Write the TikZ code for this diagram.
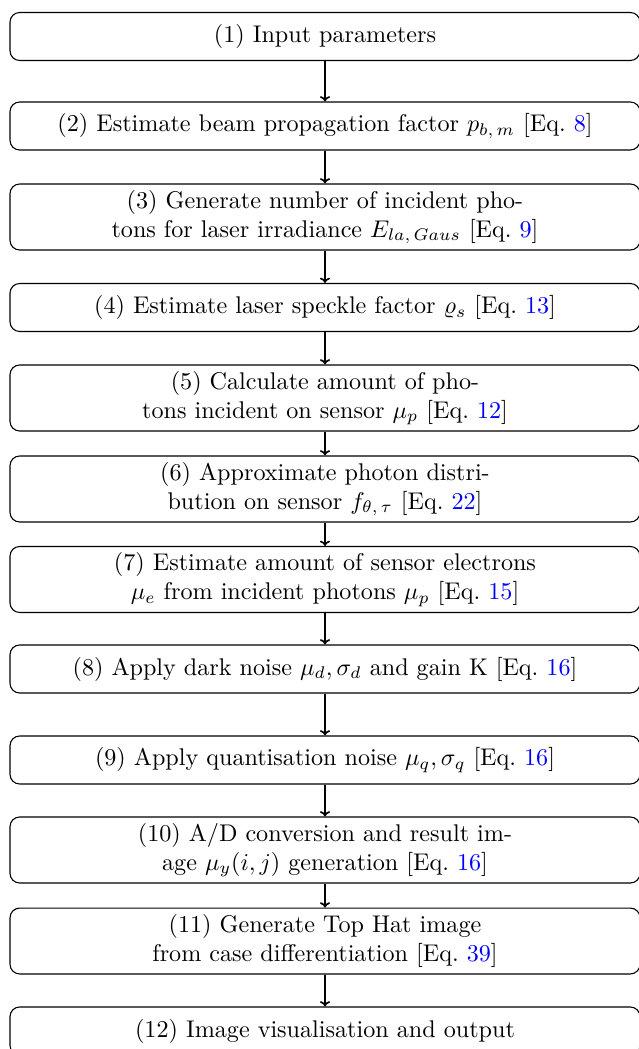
\documentclass[tikz,border=0pt]{standalone}
\usetikzlibrary{arrows.meta}
\definecolor{eqref}{rgb}{0,0,1}
\newcommand{\eqnum}[1]{[Eq.~\textcolor{eqref}{#1}]}
\tikzset{
  stepbox/.style={draw, rounded corners=4pt, line width=0.45pt, align=center,
    minimum width=261pt, minimum height=19.9pt, inner sep=2.5pt},
  tallbox/.style={stepbox, minimum height=27.3pt},
  flow/.style={draw, line width=0.7pt, -{To[length=2.2pt,width=4.2pt]}}
}
\begin{document}
\begin{tikzpicture}[x=0.4143pt, y=-0.4143pt]
  \useasboundingbox (0,0) rectangle (638,1049);
  \node[stepbox] (s1)  at (325,36.5) {(1) Input parameters};
  \node[stepbox] (s2)  at (325,126)  {(2) Estimate beam propagation factor $p_{b,\,m}$ \eqnum{8}};
  \node[tallbox] (s3)  at (325,217)  {(3) Generate number of incident pho-\\tons for laser irradiance $E_{la,\,Gaus}$ \eqnum{9}};
  \node[stepbox] (s4)  at (325,307.5){(4) Estimate laser speckle factor $\varrho_s$ \eqnum{13}};
  \node[tallbox] (s5)  at (325,398)  {(5) Calculate amount of pho-\\tons incident on sensor $\mu_p$ \eqnum{12}};
  \node[tallbox] (s6)  at (325,489)  {(6) Approximate photon distri-\\bution on sensor $f_{\theta,\,\tau}$ \eqnum{22}};
  \node[tallbox] (s7)  at (325,579.5){(7) Estimate amount of sensor electrons\\$\mu_e$ from incident photons $\mu_p$ \eqnum{15}};
  \node[stepbox] (s8)  at (325,669)  {(8) Apply dark noise $\mu_d,\sigma_d$ and gain K \eqnum{16}};
  \node[stepbox] (s9)  at (325,760)  {(9) Apply quantisation noise $\mu_q,\sigma_q$ \eqnum{16}};
  \node[tallbox] (s10) at (325,850)  {(10) A/D conversion and result im-\\age $\mu_y(i,j)$ generation \eqnum{16}};
  \node[tallbox] (s11) at (325,941)  {(11) Generate Top Hat image\\from case differentiation \eqnum{39}};
  \node[stepbox] (s12) at (325,1031) {(12) Image visualisation and output};
  \foreach \a/\b in {s1/s2,s2/s3,s3/s4,s4/s5,s5/s6,s6/s7,s7/s8,s8/s9,s9/s10,s10/s11,s11/s12}
    \draw[flow] (\a.south) -- (\b.north);
\end{tikzpicture}
\end{document}
